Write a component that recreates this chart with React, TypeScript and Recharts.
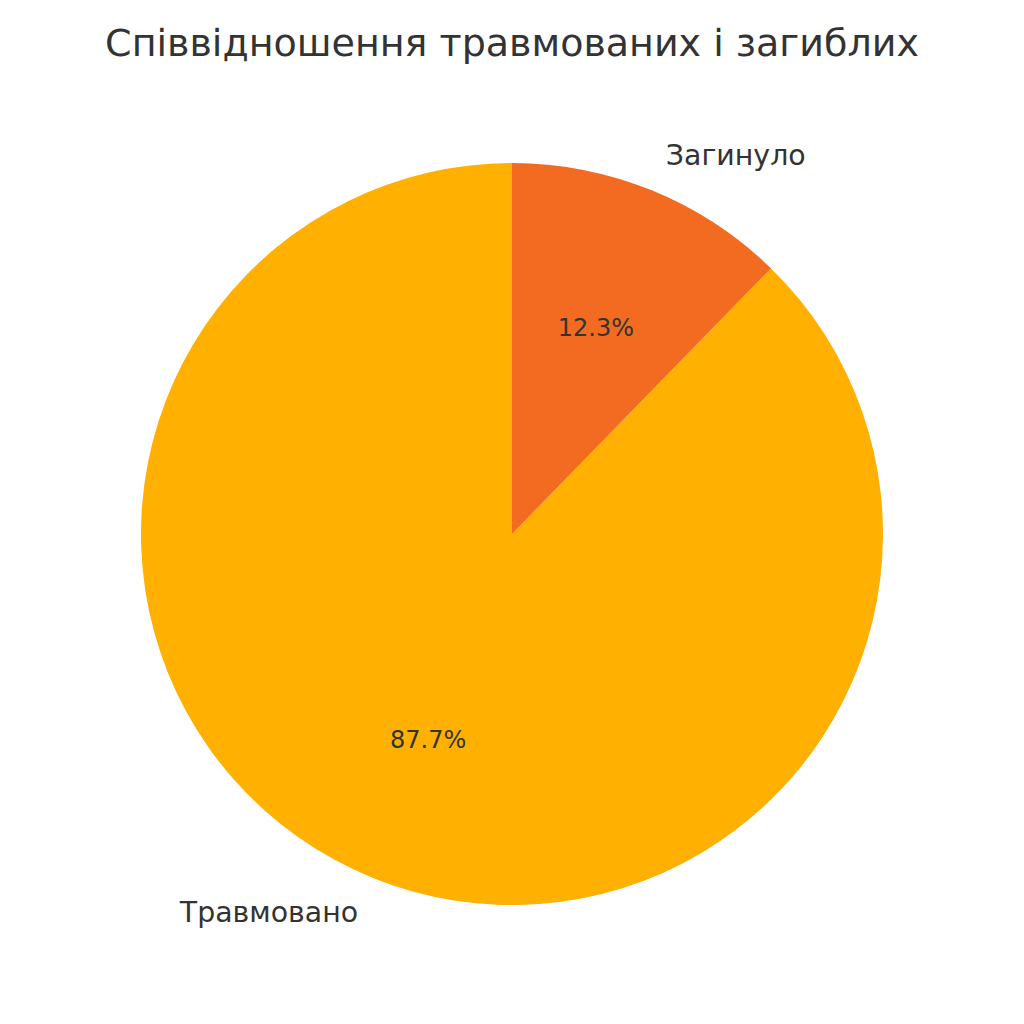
import { PieChart, Pie, Cell } from "recharts";

const categories = ["Травмовано", "Загинуло"];
const shares = [87.7, 12.3];
const sliceColors = ["#FFB000", "#F26B21"];

const chartTitle = "Співвідношення травмованих і загиблих";

const data = categories.map((name, i) => ({ name, value: shares[i] }));

const RAD = Math.PI / 180;
const textColor = "#333333";
const font = "'DejaVu Sans', sans-serif";

const renderLabel = (props: any) => {
  const { cx, cy, midAngle, outerRadius, percent, name } = props;
  const cos = Math.cos(-midAngle * RAD);
  const sin = Math.sin(-midAngle * RAD);
  const lx = cx + outerRadius * 1.1 * cos;
  const ly = cy + outerRadius * 1.1 * sin;
  const px = cx + outerRadius * 0.6 * cos;
  const py = cy + outerRadius * 0.6 * sin;
  return (
    <g>
      <text
        x={lx}
        y={ly}
        textAnchor={cos >= 0 ? "start" : "end"}
        dominantBaseline="central"
        fill={textColor}
        fontSize={28.4}
        fontFamily={font}
      >
        {name}
      </text>
      <text
        x={px}
        y={py}
        textAnchor="middle"
        dominantBaseline="central"
        fill={textColor}
        fontSize={24}
        fontFamily={font}
      >
        {`${(percent * 100).toFixed(1)}%`}
      </text>
    </g>
  );
};

export default function App() {
  return (
    <div style={{ position: "absolute", left: 0, top: 0, width: 1024, height: 1024, background: "#fff" }}>
      <div
        style={{
          position: "absolute",
          left: 0,
          top: 18,
          width: 1024,
          textAlign: "center",
          fontFamily: font,
          fontSize: 38,
          color: textColor,
          lineHeight: "50px",
        }}
      >
        {chartTitle}
      </div>
      <PieChart width={1024} height={1024} margin={{ top: 0, right: 0, bottom: 0, left: 0 }}>
        <Pie
          data={data}
          dataKey="value"
          nameKey="name"
          cx={512}
          cy={534}
          outerRadius={371}
          startAngle={90}
          endAngle={450}
          stroke="none"
          label={renderLabel}
          labelLine={false}
          isAnimationActive={false}
        >
          {data.map((d, i) => (
            <Cell key={`slice-${d.name}`} fill={sliceColors[i]} />
          ))}
        </Pie>
      </PieChart>
    </div>
  );
}
